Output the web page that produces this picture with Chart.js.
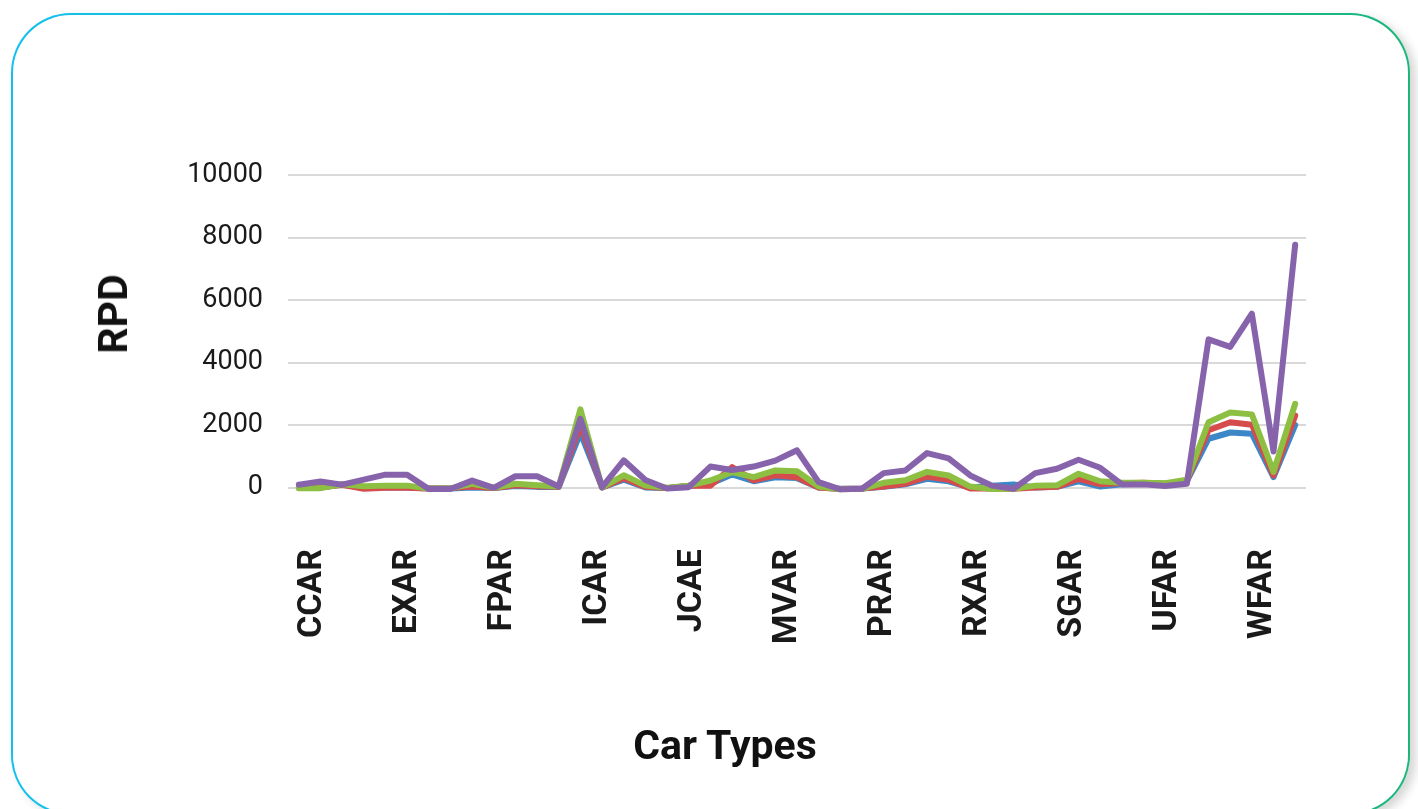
<!DOCTYPE html>
<html>
<head>
<meta charset="utf-8">
<title>RPD by Car Type</title>
<script src="https://cdn.jsdelivr.net/npm/chart.js@4.4.1/dist/chart.umd.min.js"></script>
<style>
  html, body { margin: 0; padding: 0; background: #fff; width: 1418px; height: 809px; overflow: hidden; font-family: Roboto, "Noto Sans", sans-serif; }
  .card { position: absolute; left: 11px; top: 13px; width: 1399px; height: 802px; box-sizing: border-box; padding: 2px;
          border-radius: 60px; background: linear-gradient(90deg, #12c0ee 0%, #16bbb8 50%, #1ab67a 100%);
          box-shadow: 6px 4px 10px rgba(0,0,0,0.16); }
  .card-inner { width: 100%; height: 100%; border-radius: 58px; background: #fff; }
  #chart { position: absolute; left: 0; top: 0; }
  .axis-title { position: absolute; font-weight: 700; color: #111; white-space: nowrap; font-family: Roboto, sans-serif; }
  #yTitle { left: 113px; top: 314px; font-size: 41px; transform: translate(-50%, -50%) rotate(-90deg); }
  #xTitle { left: 725px; top: 745px; font-size: 41px; transform: translate(-50%, -50%); }
</style>
</head>
<body>
<div class="card"><div class="card-inner"></div></div>
<canvas id="chart" width="1418" height="809"></canvas>
<div class="axis-title" id="yTitle">RPD</div>
<div class="axis-title" id="xTitle">Car Types</div>

<script>
// Car-type labels printed along the bottom axis
const tickLabels = ['CCAR', 'EXAR', 'FPAR', 'ICAR', 'JCAE', 'MVAR', 'PRAR', 'RXAR', 'SGAR', 'UFAR', 'WFAR'];

// RPD per car type, one value per category, for each of the four series
const series1 = [0, 0, 100, 0, 0, 0, -30, -30, 0, -20, 50, 20, 20, 1750, 0, 250, 0, -20, 50, 120, 420, 200, 330, 300,
                 0, -40, -30, 20, 100, 280, 200, 0, 60, 100, 0, 20, 200, 30, 100, 120, 110, 200, 1560, 1760, 1720, 330, 2000];
const series2 = [0, 0, 90, -40, -10, -10, -30, -20, 30, -20, 70, 40, 20, 2000, 0, 300, 20, -20, 60, 60, 650, 230, 390, 330,
                 0, -50, -30, 30, 120, 350, 250, -30, -30, -40, 0, 20, 280, 100, 140, 150, 120, 220, 1830, 2090, 2010, 385, 2300];
const series3 = [-20, -20, 100, 40, 60, 60, -30, -30, 120, -10, 120, 70, 30, 2500, 0, 390, 60, -10, 60, 225, 490, 330, 545, 520,
                 30, -60, -40, 150, 230, 500, 385, 30, -50, -40, 60, 70, 440, 200, 150, 150, 140, 250, 2090, 2400, 2340, 500, 2680];
const series4 = [90, 190, 90, 250, 410, 410, -50, -50, 220, -10, 360, 360, 30, 2200, 10, 870, 240, -30, 10, 670, 560, 670, 860, 1190,
                 170, -60, -40, 460, 545, 1100, 930, 385, 60, -40, 460, 600, 890, 630, 100, 100, 50, 120, 4740, 4500, 5560, 1150, 7770];

const seriesNames = ['Series 1', 'Series 2', 'Series 3', 'Series 4'];
const seriesColors = ['#3b87c8', '#d64b4b', '#8dbf43', '#8663ab'];

// one slot per car type on the (unlabelled) category scale
const categorySlots = series1.map((_, i) => String(i + 1));

const allSeries = [series1, series2, series3, series4];
const datasets = allSeries.map((values, k) => ({
  label: seriesNames[k],
  data: values,
  borderColor: seriesColors[k],
  backgroundColor: seriesColors[k],
  borderWidth: 6,
  pointRadius: 0,
  tension: 0,
  fill: false,
  borderJoinStyle: 'round',
  borderCapStyle: 'round',
  order: allSeries.length - k
}));

const tickFont = { family: 'Roboto, sans-serif', size: 27 };
const labelFont = { family: 'Roboto, sans-serif', size: 34, weight: 'bold' };

new Chart(document.getElementById('chart'), {
  type: 'line',
  data: { labels: categorySlots, datasets },
  options: {
    responsive: false,
    devicePixelRatio: 1,
    animation: false,
    events: [],
    layout: { padding: { left: 0, top: 175, right: 112, bottom: 0 } },
    plugins: { legend: { display: false }, tooltip: { enabled: false } },
    scales: {
      x: {
        type: 'category',
        display: false,
        offset: true
      },
      xNames: {
        type: 'linear',
        position: 'bottom',
        bounds: 'data',
        min: -0.262,
        max: 10.458,
        grid: { display: false },
        border: { display: false },
        afterBuildTicks: (scale) => { scale.ticks = tickLabels.map((_, i) => ({ value: i })); },
        afterFit: (scale) => { scale.height = 259; },
        ticks: {
          autoSkip: false,
          minRotation: 90,
          maxRotation: 90,
          padding: -9,
          color: '#1a1a1a',
          font: labelFont,
          callback: (value) => tickLabels[value] ?? ''
        }
      },
      y: {
        type: 'linear',
        min: -2000,
        max: 10000,
        afterFit: (scale) => { scale.width = 288; },
        grid: {
          drawTicks: false,
          lineWidth: 2,
          color: (ctx) => (ctx.tick && ctx.tick.value < 0) ? 'rgba(0,0,0,0)' : '#d9d9d9'
        },
        border: { display: false },
        ticks: {
          stepSize: 2000,
          padding: 25,
          color: '#1a1a1a',
          font: tickFont,
          callback: (value) => value < 0 ? '' : String(value)
        }
      }
    }
  }
});
</script>
</body>
</html>
